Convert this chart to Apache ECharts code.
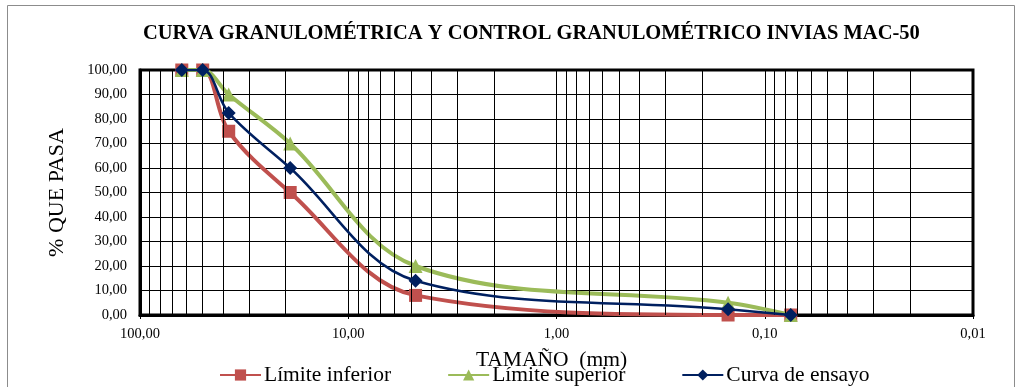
<!DOCTYPE html>
<html>
<head>
<meta charset="utf-8">
<script src="https://cdn.jsdelivr.net/npm/echarts@6/dist/echarts.min.js"></script>
<style>html,body{margin:0;padding:0;background:#fff}#c{width:1021px;height:387px}</style>
</head>
<body>
<div id="c"></div>
<script>
const titleText = 'CURVA GRANULOMÉTRICA Y CONTROL GRANULOMÉTRICO INVIAS MAC-50';
const sizes = [63, 50, 37.5, 19, 4.75, 0.15, 0.075];
const limiteInferior = [100, 100, 75, 50, 8, 0, 0];
const limiteSuperior = [100, 100, 90, 70, 20, 5, 0];
const curvaEnsayo = [100, 100, 82.5, 60, 14, 2.3, 0];
const seriesNames = ['Límite inferior', 'Límite superior', 'Curva de ensayo'];
const xMinorGrid = [90,80,70,60,50,40,30,20, 9,8,7,6,5,4,3,2, 0.9,0.8,0.7,0.6,0.5,0.4,0.3,0.2, 0.09,0.08,0.07,0.06,0.05,0.04,0.03,0.02];

const serif = '"Liberation Serif","Times New Roman",serif';
const fmt = v => Number(v).toFixed(2).replace('.', ',');
const pairs = arr => sizes.map((s, i) => [s, arr[i]]);

const chart = echarts.init(document.getElementById('c'), null, {renderer: 'canvas'});
chart.setOption({
  animation: false,
  backgroundColor: '#fff',
  graphic: [{
    type: 'rect', shape: {x: 7.5, y: 5.5, width: 1007, height: 400},
    style: {fill: 'none', stroke: '#8c8c8c', lineWidth: 1}, z: -10, silent: true
  }],
  title: {
    text: titleText, left: 138, top: 18,
    textStyle: {fontFamily: serif, fontWeight: 'bold', fontSize: 20.5, color: '#000'}
  },
  legend: {
    left: 214, top: 359, itemWidth: 41, itemHeight: 14, itemGap: 56,
    textStyle: {fontFamily: serif, fontSize: 21.5, color: '#000', padding: [0,0,0,-2]},
    data: seriesNames
  },
  grid: {left: 140, right: 48, top: 70, bottom: 72, show: true, borderColor: '#000', borderWidth: 3, backgroundColor: 'transparent'},
  xAxis: {
    type: 'log', logBase: 10, min: 0.01, max: 100, inverse: true,
    name: 'TAMAÑO  (mm)', nameLocation: 'middle', nameGap: 34,
    nameTextStyle: {fontFamily: serif, fontSize: 21.5, color: '#000', padding: [0, 10, 0, 0]},
    axisLine: {show: true, onZero: false, lineStyle: {color: '#000', width: 3}},
    axisTick: {show: true, length: 4, lineStyle: {color: '#000'}},
    axisLabel: {fontFamily: serif, fontSize: 14.5, color: '#000', margin: 12, formatter: fmt},
    splitLine: {show: true, lineStyle: {color: '#000', width: 1}}
  },
  yAxis: {
    type: 'value', min: 0, max: 100, interval: 10,
    name: '% QUE PASA', nameLocation: 'middle', nameGap: 72,
    nameTextStyle: {fontFamily: serif, fontSize: 22, color: '#000'},
    axisLine: {show: true, lineStyle: {color: '#000', width: 3}},
    axisTick: {show: false},
    axisLabel: {fontFamily: serif, fontSize: 14.5, color: '#000', margin: 13, formatter: fmt},
    splitLine: {show: true, lineStyle: {color: '#000', width: 1}}
  },
  series: [
    {
      name: seriesNames[0], type: 'line', data: pairs(limiteInferior), smooth: 0.35,
      symbol: 'rect', symbolSize: 13,
      lineStyle: {color: '#C0504D', width: 4}, itemStyle: {color: '#C0504D'},
      markLine: {
        silent: true, symbol: 'none', label: {show: false},
        lineStyle: {color: '#000', width: 1, type: 'solid'},
        emphasis: {disabled: true},
        data: xMinorGrid.map(v => ({xAxis: v}))
      },
      z: 3
    },
    {
      name: seriesNames[1], type: 'line', data: pairs(limiteSuperior), smooth: 0.35,
      symbol: 'triangle', symbolSize: 14,
      lineStyle: {color: '#9BBB59', width: 4}, itemStyle: {color: '#9BBB59'},
      z: 4
    },
    {
      name: seriesNames[2], type: 'line', data: pairs(curvaEnsayo), smooth: 0.35,
      symbol: 'diamond', symbolSize: 14,
      lineStyle: {color: '#002060', width: 2.5}, itemStyle: {color: '#002060'},
      z: 5
    }
  ]
});
</script>
</body>
</html>
